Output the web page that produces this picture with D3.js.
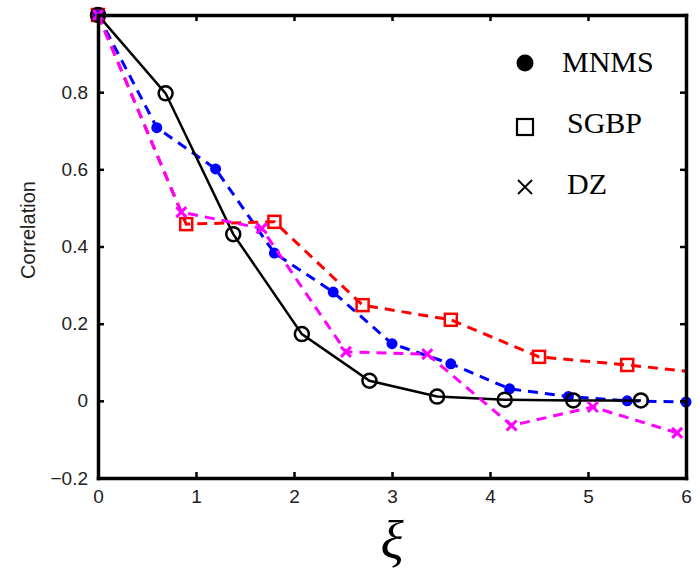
<!DOCTYPE html>
<html>
<head>
<meta charset="utf-8">
<script src="https://cdn.jsdelivr.net/npm/d3@7"></script>
<style>
  body { margin: 0; background: #fff; }
  .tick text { font-family: "Liberation Sans", Arial, sans-serif; font-size: 19px; fill: #222; }
</style>
</head>
<body>
<div id="chart"></div>
<script>
// Series values
const theoryX = [0, 0.69, 1.38, 2.08, 2.77, 3.46, 4.15, 4.85, 5.54];
const theoryY = [1, 0.797, 0.432, 0.173, 0.052, 0.011, 0.003, 0.001, 0.001];

const mnmsX = [0, 0.6, 1.2, 1.8, 2.4, 3.0, 3.6, 4.2, 4.8, 5.4, 6.0];
const mnmsY = [1, 0.708, 0.601, 0.383, 0.282, 0.148, 0.096, 0.031, 0.011, 0.0, -0.003];

const sgbpX = [0, 0.9, 1.8, 2.7, 3.6, 4.5, 5.4, 6.3];
const sgbpY = [1, 0.458, 0.464, 0.248, 0.21, 0.114, 0.093, 0.069];

const dzX = [0, 0.85, 1.67, 2.53, 3.36, 4.22, 5.05, 5.91];
const dzY = [1, 0.489, 0.447, 0.127, 0.121, -0.064, -0.016, -0.083];

const xTicks = [0, 1, 2, 3, 4, 5, 6];
const yTicks = [-0.2, 0, 0.2, 0.4, 0.6, 0.8];
const legendLabels = ['MNMS', 'SGBP', 'DZ'];

const W = 700, H = 574;
const margin = {top: 15, right: 14, bottom: 96, left: 98};
const width = W - margin.left - margin.right;
const height = H - margin.top - margin.bottom;

const svg = d3.select('#chart').append('svg')
    .attr('width', W)
    .attr('height', H);

const chart = svg.append('g')
    .attr('transform', `translate(${margin.left},${margin.top})`);

const x = d3.scaleLinear().domain([0, 6]).range([0, width]);
const y = d3.scaleLinear().domain([-0.2, 1]).range([height, 0]);

svg.append('defs').append('clipPath').attr('id', 'plot-clip')
  .append('rect').attr('width', width).attr('height', height);

const line = d3.line().x(d => x(d[0])).y(d => y(d[1]));
const zip = (xs, ys) => xs.map((v, i) => [v, ys[i]]);
const inside = d => d[0] >= 0 && d[0] <= 6;

const series = [
  {name: 'mnms', pts: zip(mnmsX, mnmsY), color: '#0000ff', dash: '10,7', width: 3, marker: 'dot'},
  {name: 'sgbp', pts: zip(sgbpX, sgbpY), color: '#ff0000', dash: '10,7', width: 3, marker: 'square'},
  {name: 'theory', pts: zip(theoryX, theoryY), color: '#000', dash: null, width: 2.5, marker: 'circle'},
  {name: 'dz', pts: zip(dzX, dzY), color: '#ff00ff', dash: '10,7', width: 3, marker: 'cross'}
];

const plot = chart.append('g');

series.forEach(s => {
  const g = plot.append('g').attr('class', s.name);
  g.append('path')
      .attr('d', line(s.pts))
      .attr('clip-path', 'url(#plot-clip)')
      .attr('fill', 'none')
      .attr('stroke', s.color)
      .attr('stroke-width', s.width)
      .attr('stroke-dasharray', s.dash);

  const pts = s.pts.filter(inside);
  if (s.marker === 'dot') {
    g.selectAll('circle').data(pts).join('circle')
        .attr('cx', d => x(d[0])).attr('cy', d => y(d[1]))
        .attr('r', 5.5).attr('fill', s.color);
  } else if (s.marker === 'circle') {
    g.selectAll('circle').data(pts).join('circle')
        .attr('cx', d => x(d[0])).attr('cy', d => y(d[1]))
        .attr('r', 7).attr('fill', 'none')
        .attr('stroke', s.color).attr('stroke-width', 2.5);
  } else if (s.marker === 'square') {
    g.selectAll('rect').data(pts).join('rect')
        .attr('x', d => x(d[0]) - 6).attr('y', d => y(d[1]) - 6)
        .attr('width', 12).attr('height', 12)
        .attr('fill', 'none')
        .attr('stroke', s.color).attr('stroke-width', 2.5);
  } else {
    g.selectAll('path.mk').data(pts).join('path')
        .attr('class', 'mk')
        .attr('d', d => {
          const cx = x(d[0]), cy = y(d[1]), r = 5;
          return `M${cx - r},${cy - r}L${cx + r},${cy + r}M${cx - r},${cy + r}L${cx + r},${cy - r}`;
        })
        .attr('stroke', s.color).attr('stroke-width', 3);
  }
});

// Axes: ticks point inward on all four sides, box closed
const fmt = d => d === 0 ? '0' : d3.format('.1f')(d);

const axes = [
  chart.append('g').attr('transform', `translate(0,${height})`)
      .call(d3.axisBottom(x).tickValues(xTicks).tickFormat(d3.format('d')).tickSizeInner(-6).tickSizeOuter(0).tickPadding(12)),
  chart.append('g')
      .call(d3.axisTop(x).tickValues(xTicks).tickFormat('').tickSizeInner(-6).tickSizeOuter(0)),
  chart.append('g')
      .call(d3.axisLeft(y).tickValues(yTicks).tickFormat(fmt).tickSizeInner(-6).tickSizeOuter(0).tickPadding(10)),
  chart.append('g').attr('transform', `translate(${width},0)`)
      .call(d3.axisRight(y).tickValues(yTicks).tickFormat('').tickSizeInner(-6).tickSizeOuter(0))
];

axes.forEach(a => {
  a.select('.domain').attr('stroke', '#000').attr('stroke-width', 3.5).attr('stroke-linecap', 'square');
  a.selectAll('.tick line').attr('stroke', '#000').attr('stroke-width', 2.5);
});

// Legend (black markers, serif labels)
const legend = chart.append('g').attr('transform', `translate(${525 - margin.left},${63 - margin.top})`);
legendLabels.forEach((label, i) => {
  const g = legend.append('g').attr('transform', `translate(0,${i * 61})`);
  if (i === 0) {
    g.append('circle').attr('r', 8.5).attr('fill', '#000');
  } else if (i === 1) {
    g.append('rect').attr('x', -8).attr('y', -5).attr('width', 16).attr('height', 16)
        .attr('fill', 'none').attr('stroke', '#000').attr('stroke-width', 2.2);
  } else {
    g.append('path').attr('d', 'M-7,-5L7,9M-7,9L7,-5')
        .attr('fill', 'none').attr('stroke', '#000').attr('stroke-width', 1.8);
  }
  g.append('text')
      .attr('x', i === 0 ? 37 : 42)
      .attr('y', 9)
      .attr('font-family', '"Liberation Serif", "Times New Roman", serif')
      .attr('font-size', 30)
      .attr('fill', '#000')
      .text(label);
});

// Axis titles
svg.append('text')
    .attr('transform', `translate(35,${230}) rotate(-90)`)
    .attr('text-anchor', 'middle')
    .attr('font-family', '"Liberation Sans", Arial, sans-serif')
    .attr('font-size', 20)
    .attr('fill', '#222')
    .text('Correlation');

svg.append('text')
    .attr('x', margin.left + width / 2)
    .attr('y', 559)
    .attr('text-anchor', 'middle')
    .attr('font-family', '"Liberation Serif", "DejaVu Serif", serif')
    .attr('font-style', 'italic')
    .attr('font-size', 54)
    .attr('fill', '#000')
    .text('ξ');
</script>
</body>
</html>
